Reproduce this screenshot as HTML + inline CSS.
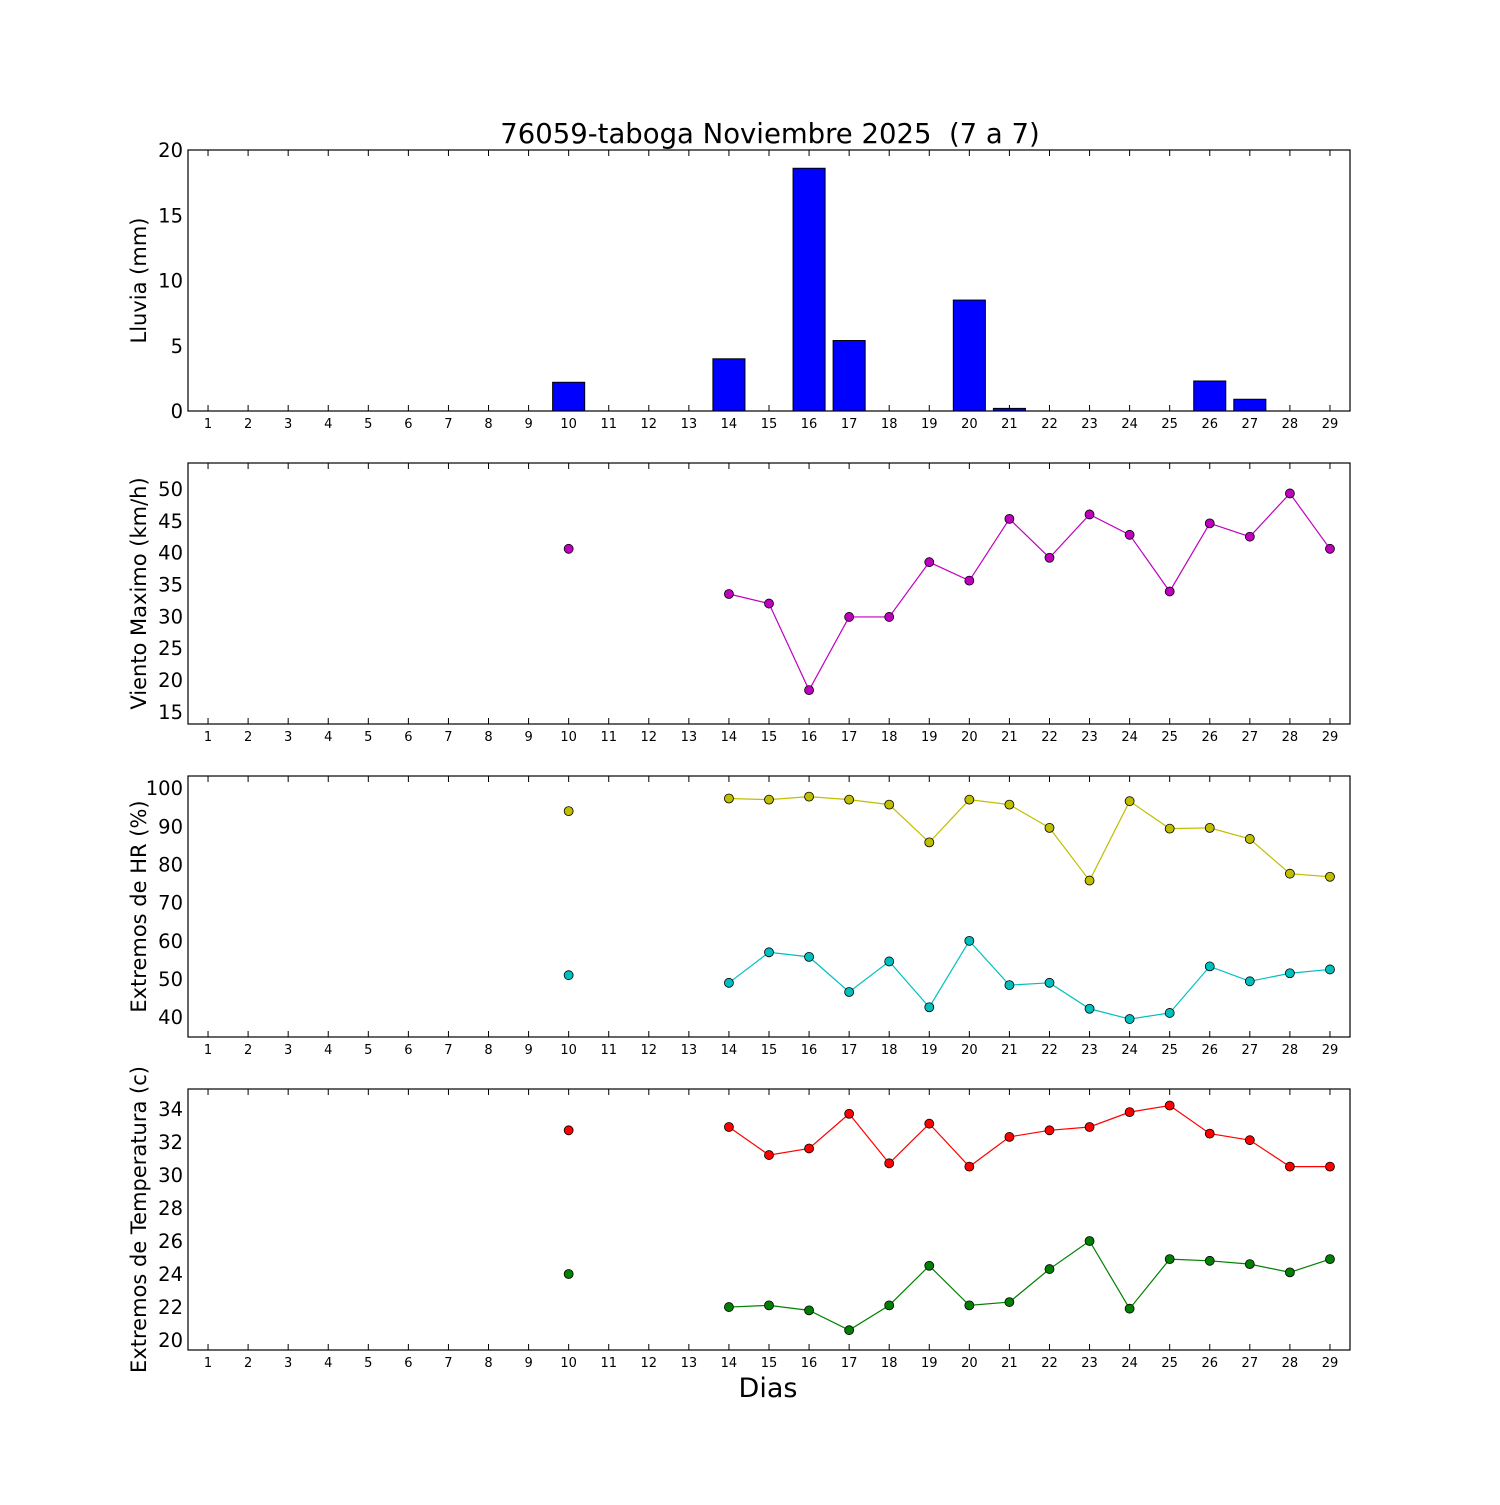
<!DOCTYPE html>
<html><head><meta charset="utf-8"><style>
html,body{margin:0;padding:0;background:#fff;}
svg text{font-family:"DejaVu Sans","Liberation Sans",sans-serif;}
</style></head><body>
<svg id="c" width="1500" height="1500" xmlns="http://www.w3.org/2000/svg">
<rect width="1500" height="1500" fill="#fff"/>
<text x="770" y="143" font-size="27.5" text-anchor="middle" xml:space="preserve">76059-taboga Noviembre 2025  (7 a 7)</text>
<text x="768" y="1397" font-size="27" text-anchor="middle">Dias</text>
</svg>
<script>
const days = [1,2,3,4,5,6,7,8,9,10,11,12,13,14,15,16,17,18,19,20,21,22,23,24,25,26,27,28,29];
const rain = [0,0,0,0,0,0,0,0,0,2.2,0,0,0,4.0,0,18.6,5.4,0,0,8.5,0.2,0,0,0,0,2.3,0.9,0,0];
const N = null;
const wind = [N,N,N,N,N,N,N,N,N,40.6,N,N,N,33.5,32,18.4,29.9,29.9,38.5,35.6,45.3,39.2,46,42.8,33.9,44.6,42.5,49.3,40.6];
const hrMax = [N,N,N,N,N,N,N,N,N,94,N,N,N,97.3,97,97.8,97,95.7,85.8,97,95.7,89.6,75.8,96.6,89.4,89.6,86.7,77.6,76.8];
const hrMin = [N,N,N,N,N,N,N,N,N,51,N,N,N,49,57,55.8,46.6,54.6,42.6,60,48.4,49,42.2,39.5,41.1,53.3,49.4,51.5,52.5];
const tMax = [N,N,N,N,N,N,N,N,N,32.7,N,N,N,32.9,31.2,31.6,33.7,30.7,33.1,30.5,32.3,32.7,32.9,33.8,34.2,32.5,32.1,30.5,30.5];
const tMin = [N,N,N,N,N,N,N,N,N,24,N,N,N,22,22.1,21.8,20.6,22.1,24.5,22.1,22.3,24.3,26,21.9,24.9,24.8,24.6,24.1,24.9];
const rainTicks = [0,5,10,15,20];
const windTicks = [15,20,25,30,35,40,45,50];
const hrTicks = [40,50,60,70,80,90,100];
const tTicks = [20,22,24,26,28,30,32,34];

const svg = document.getElementById('c');
const NS = 'http://www.w3.org/2000/svg';
function mk(tag, attrs){const e=document.createElementNS(NS,tag);for(const k in attrs)e.setAttribute(k,attrs[k]);svg.appendChild(e);return e;}
const L=188,R=1350;
const x = d => L + (d-0.5)/29*(R-L);

function panel(name, top, bot, y0, y1, ticks, label){
  const y = v => bot - (v-y0)/(y1-y0)*(bot-top);
  const f = mk('rect',{x:L,y:top,width:R-L,height:bot-top,fill:'none',stroke:'#000','stroke-width':1.2});
  
  
  ticks.forEach(t=>{
    const yy=y(t);
    const tx=mk('text',{x:L-5,y:yy+7,'font-size':19.5,'text-anchor':'end'});
    tx.textContent=t;
    
    
  });
  days.forEach(d=>{
    const xx=x(d);
    mk('line',{x1:xx,x2:xx,y1:bot,y2:bot-6,stroke:'#000'});
    mk('line',{x1:xx,x2:xx,y1:top,y2:top+6,stroke:'#000'});
    const tx=mk('text',{x:xx,y:bot+17,'font-size':13,'text-anchor':'middle'});
    tx.textContent=d;
    
    
  });
  const cy=(top+bot)/2;
  const yl=mk('text',{x:146,y:cy,'font-size':21,'text-anchor':'middle',transform:`rotate(-90 146 ${cy})`});
  yl.textContent=label;
  
  
  return y;
}
function series(name, vals, y, color){
  let seg=[];
  const segs=[];
  vals.forEach((v,i)=>{ if(v===null){ if(seg.length)segs.push(seg); seg=[]; } else seg.push([x(days[i]),y(v)]); });
  if(seg.length)segs.push(seg);
  segs.forEach(s=>{ if(s.length>1){
    const p=mk('polyline',{points:s.map(q=>q.join(',')).join(' '),fill:'none',stroke:color,'stroke-width':1.2});
    
    
  }});
  vals.forEach((v,i)=>{ if(v===null)return;
    const c=mk('circle',{cx:x(days[i]),cy:y(v),r:4.5,fill:color,stroke:'#000','stroke-width':0.8});
    
    
  });
}
const y1 = panel('rain',150,411,0,20,rainTicks,'Lluvia (mm)');
rain.forEach((v,i)=>{
  const xx=x(days[i]);const w=0.8*(R-L)/29;
  const b=mk('rect',{x:xx-w/2,y:y1(v),width:w,height:y1(0)-y1(v),fill:'#0000ff',stroke:'#000','stroke-width':1});
  
  
});
const y2 = panel('wind',463,724,13.08,54.08,windTicks,'Viento Maximo (km/h)');
series('wind',wind,y2,'#bf00bf');
const y3 = panel('hr',776,1037,34.8,103.2,hrTicks,'Extremos de HR (%)');
series('hr-max',hrMax,y3,'#bfbf00');
series('hr-min',hrMin,y3,'#00bfbf');
const y4 = panel('temp',1089,1350,19.4,35.2,tTicks,'Extremos de Temperatura (c)');
series('temp-max',tMax,y4,'#ff0000');
series('temp-min',tMin,y4,'#008000');
</script>
</body></html>
